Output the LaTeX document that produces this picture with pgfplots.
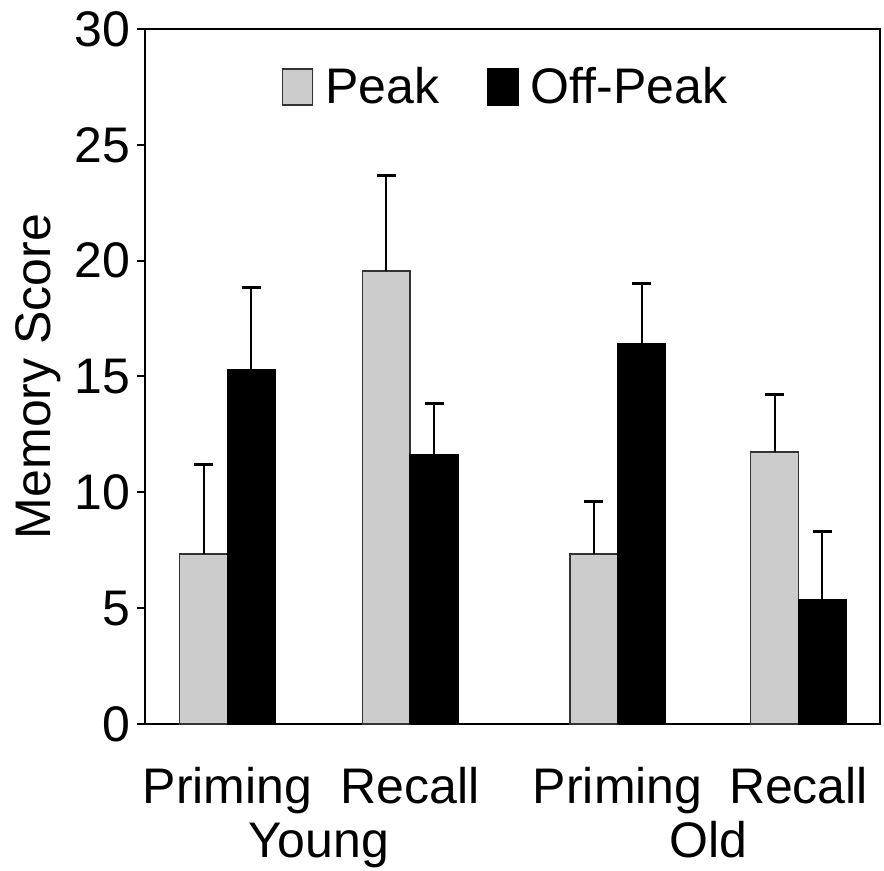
\documentclass[border=0pt]{standalone}
\usepackage{pgfplots}
\pgfplotsset{compat=1.18}
\usepackage{fontspec}
\setmainfont{Liberation Sans}

\newcommand{\chartfont}{\fontsize{25}{30}\selectfont}

\begin{document}
\begin{tikzpicture}
  \begin{axis}[
    scale only axis,
    clip=false,
    width=367.5pt,
    height=347.5pt,
    ybar=0pt,
    bar width=0.2617,
    xmin=-0.451, xmax=3.57,
    ymin=0, ymax=30,
    ytick={0,5,...,30},
    xtick={0,1,2.135,3.124},
    xticklabels={Priming,Recall,Priming,Recall},
    x tick style={draw=none},
    y tick style={black, line width=1pt},
    tick align=outside,
    ytick pos=left,
    major tick length=4pt,
    axis line style={black, line width=1pt},
    /pgf/number format/assume math mode=true,
    every tick label/.append style={font=\chartfont},
    xticklabel style={yshift=-14pt},
    ylabel={Memory Score},
    ylabel style={font=\chartfont},
    legend style={draw=none, fill=none, font=\chartfont,
      at={(0.5,1)}, anchor=north, yshift=-15pt, xshift=-3pt,
      legend columns=2,
      /tikz/every odd column/.append style={column sep=4pt},
      /tikz/every even column/.append style={column sep=22pt}},
    legend image code/.code={\draw[#1] (0pt,-9pt) rectangle (15pt,9pt);},
    error bars/y dir=plus,
    error bars/y explicit,
    error bars/error bar style={black, line width=1pt},
    error bars/error mark options={rotate=90, mark size=4.75pt, line width=1.5pt},
  ]
    % Peak
    \addplot[fill=black!20, draw=black!80, line width=0.8pt]
      coordinates {
        (0,7.35) +- (0,3.87)
        (1,19.55) +- (0,4.14)
        (2.135,7.35) +- (0,2.24)
        (3.124,11.73) +- (0,2.51)
      };
    \addlegendentry{Peak}
    % Off-Peak
    \addplot[fill=black, draw=black, line width=0.8pt]
      coordinates {
        (0,15.27) +- (0,3.55)
        (1,11.63) +- (0,2.21)
        (2.135,16.39) +- (0,2.63)
        (3.124,5.37) +- (0,2.92)
      };
    \addlegendentry{Off-Peak}

    \node[font=\chartfont, anchor=base] at (axis cs:0.5,0) [yshift=-67pt] {Young};
    \node[font=\chartfont, anchor=base] at (axis cs:2.63,0) [yshift=-67pt] {Old};
    \coordinate (sw) at (rel axis cs:0,0);
    \coordinate (ne) at (rel axis cs:1,1);
  \end{axis}
  \pgfresetboundingbox
  \useasboundingbox ([xshift=-72.5pt, yshift=-73.5pt]sw) rectangle ([xshift=2pt, yshift=14.5pt]ne);
\end{tikzpicture}
\end{document}
